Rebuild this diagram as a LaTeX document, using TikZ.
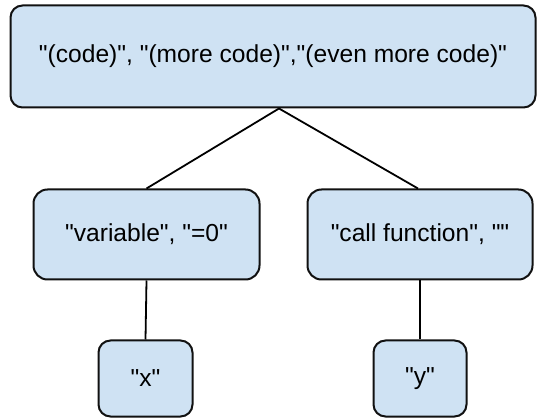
\documentclass[tikz,border=0pt]{standalone}
\usepackage{fontspec}
\setmainfont{Liberation Sans}[Ligatures=TeXOff]
\definecolor{boxfill}{HTML}{CFE2F3}
\definecolor{boxline}{HTML}{111111}
\tikzset{
  box/.style={draw=boxline, fill=boxfill, line width=2pt, rounded corners=12pt,
    inner sep=0pt, align=center, font=\fontsize{24.6}{30}\selectfont},
  link/.style={draw=black, line width=1.8pt}
}
\begin{document}
\begin{tikzpicture}[x=1pt,y=-1pt]
\useasboundingbox (0,0) rectangle (538,419);
\node[box, minimum width=525pt, minimum height=102pt] (top) at (273,56.5) {"(code)", "(more code)","(even more code)"};
\node[box, minimum width=226pt, minimum height=90pt, rounded corners=14pt] (ml) at (146.5,234.5) {"variable", "=0"};
\node[box, minimum width=225pt, minimum height=90pt, rounded corners=14pt] (mr) at (420,234.5) {"call function", ""};
\node[box, minimum width=94pt, minimum height=76pt] (bl) at (145.5,378.5) {"x"};
\node[box, minimum width=93pt, minimum height=76pt] (br) at (420,378.5) {"y"};
\draw[link] ([xshift=6pt]top.south) -- (ml.north);
\draw[link] ([xshift=6pt]top.south) -- ([xshift=-2pt]mr.north);
\draw[link] (ml.south) -- (bl.north);
\draw[link] (mr.south) -- (br.north);
\end{tikzpicture}
\end{document}
